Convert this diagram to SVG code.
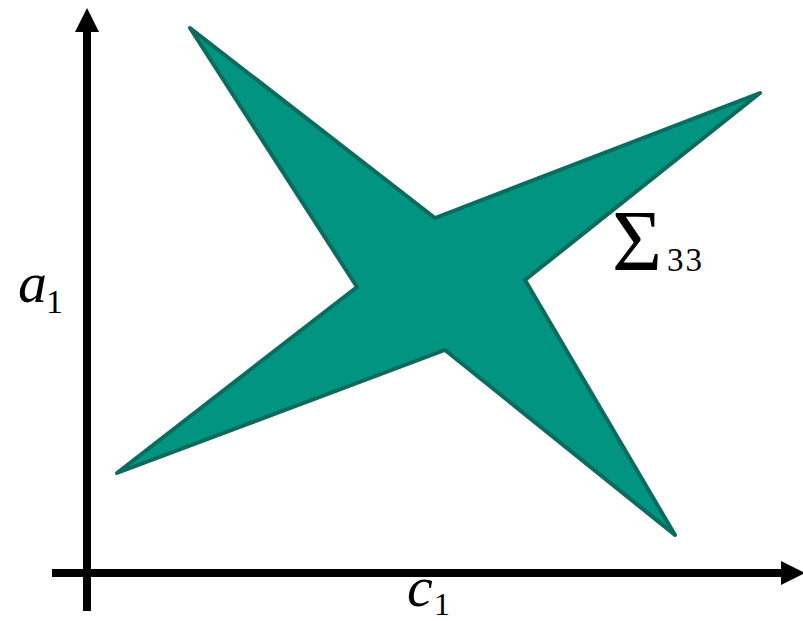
<svg xmlns="http://www.w3.org/2000/svg" width="803" height="621" viewBox="0 0 803 621">
<style>
.ax{stroke:#000;stroke-width:8;fill:none}
.lbl{font-family:"Liberation Serif","DejaVu Serif",serif;font-style:italic;fill:#000}
.sub{font-family:"Liberation Serif","DejaVu Serif",serif;fill:#000}
</style>
<defs>
<marker id="ah" markerUnits="userSpaceOnUse" markerWidth="24" markerHeight="24" refX="0" refY="12" orient="auto" viewBox="0 0 24 24">
<path d="M0,0 L24,12 L0,24 Z" fill="#000"/>
</marker>
</defs>
<g id="star">
<polygon points="190,28 435,218 760,93 525,280 675,535 445,350 117,473 357,287" fill="#009481" stroke="#0b6b5c" stroke-width="4" stroke-linejoin="round"/>
</g>
<g id="connectors">
<line class="ax" x1="87" y1="611" x2="87" y2="32" marker-end="url(#ah)"/>
<line class="ax" x1="52" y1="573" x2="781" y2="573" marker-end="url(#ah)"/>
</g>
<g id="label-a">
<text class="lbl" x="18" y="302" font-size="58">a</text>
<text class="sub" x="46" y="313" font-size="34">1</text>
</g>
<g id="label-c">
<text class="lbl" x="407" y="606" font-size="58">c</text>
<text class="sub" x="434" y="615" font-size="32">1</text>
</g>
<g id="label-sigma">
<text class="sub" x="612" y="270" font-size="86">Σ</text>
<text class="sub" x="667" y="271" font-size="33" letter-spacing="2">33</text>
</g>
</svg>
